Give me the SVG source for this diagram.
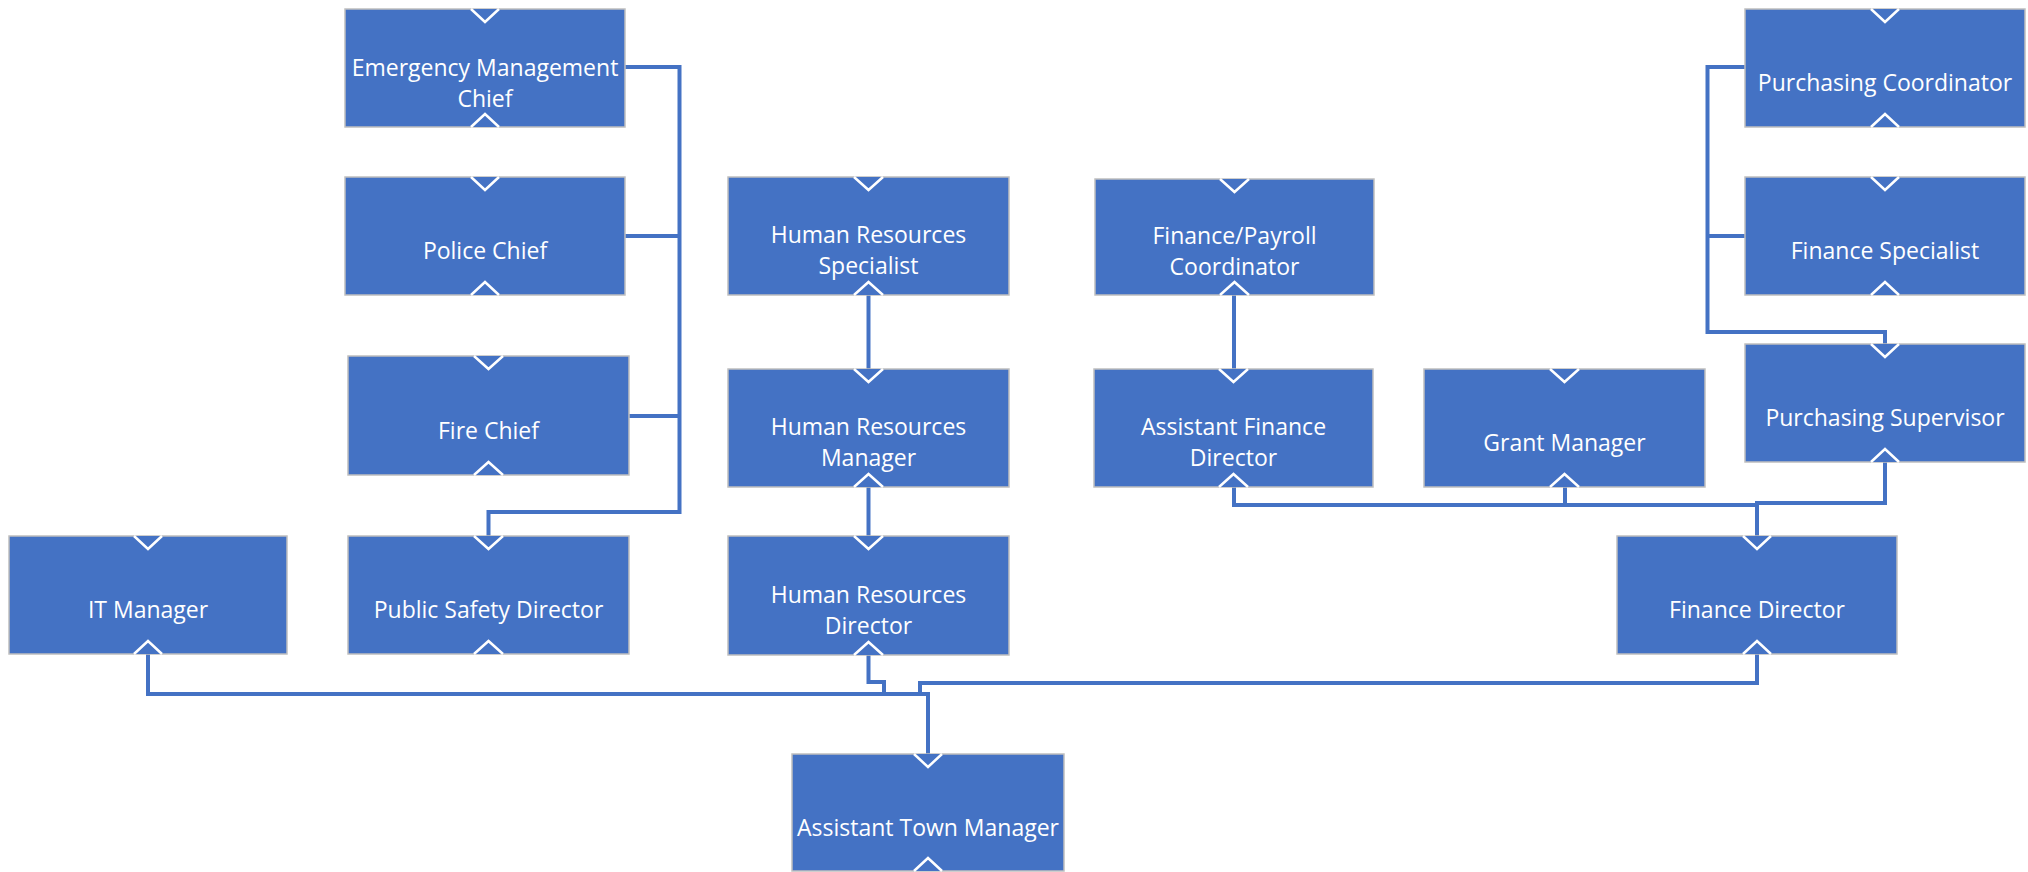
<svg xmlns="http://www.w3.org/2000/svg" width="2028" height="872" viewBox="0 0 2028 872">
<style>
.box{fill:#4472C4;stroke:#BFBFBF;stroke-width:1.5}
.chev{fill:#4472C4;stroke:#FFFFFF;stroke-width:2.5;stroke-linejoin:miter}
.lbl{font-family:"Open Sans","Noto Sans","DejaVu Sans",sans-serif;font-size:23px;fill:#FFFFFF;text-anchor:middle}
.conn{fill:none;stroke:#4472C4;stroke-width:4;stroke-linejoin:miter}
</style>
<rect width="2028" height="872" fill="#FFFFFF"/>
<g id="connectors">
<path class="conn" d="M625,67 H679.5 V512 H488.5 V536"/>
<path class="conn" d="M625,236 H679.5"/>
<path class="conn" d="M629,416 H679.5"/>
<path class="conn" d="M1745,67 H1707.5 V332 H1885 V344"/>
<path class="conn" d="M1745,236 H1707.5"/>
<path class="conn" d="M868.5,295 V369"/>
<path class="conn" d="M868.5,487 V536"/>
<path class="conn" d="M1234,295 V369"/>
<path class="conn" d="M1234,487 V505 H1757"/>
<path class="conn" d="M1565,487 V505"/>
<path class="conn" d="M1885,462 V503 H1757 V536"/>
<path class="conn" d="M928,754 V694 H148 V654"/>
<path class="conn" d="M868.5,655 V682 H884 V694"/>
<path class="conn" d="M1757,654 V683 H920 V694"/>
</g>
<g id="emergency-management-chief">
<rect class="box" x="345" y="9" width="280" height="118"/>
<path class="chev" d="M471,9 L485,22 L499,9"/>
<path class="chev" d="M471,127 L485,114 L499,127"/>
<text class="lbl" x="485" y="76">Emergency Management</text>
<text class="lbl" x="485" y="107">Chief</text>
</g>
<g id="police-chief">
<rect class="box" x="345" y="177" width="280" height="118"/>
<path class="chev" d="M471,177 L485,190 L499,177"/>
<path class="chev" d="M471,295 L485,282 L499,295"/>
<text class="lbl" x="485" y="259">Police Chief</text>
</g>
<g id="fire-chief">
<rect class="box" x="348" y="356" width="281" height="119"/>
<path class="chev" d="M474,356 L488.5,369 L503,356"/>
<path class="chev" d="M474,475 L488.5,462 L503,475"/>
<text class="lbl" x="488.5" y="439">Fire Chief</text>
</g>
<g id="public-safety-director">
<rect class="box" x="348" y="536" width="281" height="118"/>
<path class="chev" d="M474,536 L488.5,549 L503,536"/>
<path class="chev" d="M474,654 L488.5,641 L503,654"/>
<text class="lbl" x="488.5" y="618">Public Safety Director</text>
</g>
<g id="it-manager">
<rect class="box" x="9" y="536" width="278" height="118"/>
<path class="chev" d="M134,536 L148,549 L162,536"/>
<path class="chev" d="M134,654 L148,641 L162,654"/>
<text class="lbl" x="148" y="618">IT Manager</text>
</g>
<g id="human-resources-specialist">
<rect class="box" x="728" y="177" width="281" height="118"/>
<path class="chev" d="M854,177 L868.5,190 L883,177"/>
<path class="chev" d="M854,295 L868.5,282 L883,295"/>
<text class="lbl" x="868.5" y="243">Human Resources</text>
<text class="lbl" x="868.5" y="274">Specialist</text>
</g>
<g id="human-resources-manager">
<rect class="box" x="728" y="369" width="281" height="118"/>
<path class="chev" d="M854,369 L868.5,382 L883,369"/>
<path class="chev" d="M854,487 L868.5,474 L883,487"/>
<text class="lbl" x="868.5" y="435">Human Resources</text>
<text class="lbl" x="868.5" y="466">Manager</text>
</g>
<g id="human-resources-director">
<rect class="box" x="728" y="536" width="281" height="119"/>
<path class="chev" d="M854,536 L868.5,549 L883,536"/>
<path class="chev" d="M854,655 L868.5,642 L883,655"/>
<text class="lbl" x="868.5" y="603">Human Resources</text>
<text class="lbl" x="868.5" y="634">Director</text>
</g>
<g id="finance-payroll-coordinator">
<rect class="box" x="1095" y="179" width="279" height="116"/>
<path class="chev" d="M1220,179 L1234.5,192 L1249,179"/>
<path class="chev" d="M1220,295 L1234.5,282 L1249,295"/>
<text class="lbl" x="1234.5" y="244">Finance/Payroll</text>
<text class="lbl" x="1234.5" y="275">Coordinator</text>
</g>
<g id="assistant-finance-director">
<rect class="box" x="1094" y="369" width="279" height="118"/>
<path class="chev" d="M1219,369 L1233.5,382 L1248,369"/>
<path class="chev" d="M1219,487 L1233.5,474 L1248,487"/>
<text class="lbl" x="1233.5" y="435">Assistant Finance</text>
<text class="lbl" x="1233.5" y="466">Director</text>
</g>
<g id="grant-manager">
<rect class="box" x="1424" y="369" width="281" height="118"/>
<path class="chev" d="M1550,369 L1564.5,382 L1579,369"/>
<path class="chev" d="M1550,487 L1564.5,474 L1579,487"/>
<text class="lbl" x="1564.5" y="451">Grant Manager</text>
</g>
<g id="purchasing-coordinator">
<rect class="box" x="1745" y="9" width="280" height="118"/>
<path class="chev" d="M1871,9 L1885,22 L1899,9"/>
<path class="chev" d="M1871,127 L1885,114 L1899,127"/>
<text class="lbl" x="1885" y="91">Purchasing Coordinator</text>
</g>
<g id="finance-specialist">
<rect class="box" x="1745" y="177" width="280" height="118"/>
<path class="chev" d="M1871,177 L1885,190 L1899,177"/>
<path class="chev" d="M1871,295 L1885,282 L1899,295"/>
<text class="lbl" x="1885" y="259">Finance Specialist</text>
</g>
<g id="purchasing-supervisor">
<rect class="box" x="1745" y="344" width="280" height="118"/>
<path class="chev" d="M1871,344 L1885,357 L1899,344"/>
<path class="chev" d="M1871,462 L1885,449 L1899,462"/>
<text class="lbl" x="1885" y="426">Purchasing Supervisor</text>
</g>
<g id="finance-director">
<rect class="box" x="1617" y="536" width="280" height="118"/>
<path class="chev" d="M1743,536 L1757,549 L1771,536"/>
<path class="chev" d="M1743,654 L1757,641 L1771,654"/>
<text class="lbl" x="1757" y="618">Finance Director</text>
</g>
<g id="assistant-town-manager">
<rect class="box" x="792" y="754" width="272" height="117"/>
<path class="chev" d="M914,754 L928,767 L942,754"/>
<path class="chev" d="M914,871 L928,858 L942,871"/>
<text class="lbl" x="928" y="836">Assistant Town Manager</text>
</g>
</svg>
